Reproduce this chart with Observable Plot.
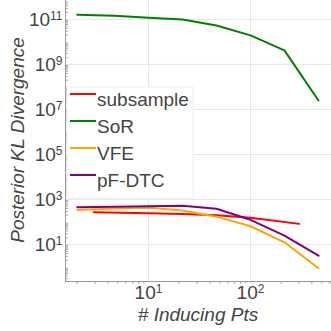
<!DOCTYPE html>
<html><head><meta charset="utf-8">
<script src="https://cdn.jsdelivr.net/npm/d3@7"></script>
<script src="https://cdn.jsdelivr.net/npm/@observablehq/plot@0.6"></script>
<style>
body{margin:0;background:#fff;}
</style>
</head><body><div id="chart"></div>
<script>
// Inducing point counts (x) and posterior KL divergence per method (y)
const xsGP = [2, 4.64, 10, 21.5, 46.4, 100, 215, 464];
const xsSub = [2.9, 10, 21.5, 46.4, 100, 300];
const subsample = [275, 245, 229, 200, 155, 83];
const sor = [1.62e11, 1.45e11, 1.2e11, 1.0e11, 5.4e10, 1.95e10, 4.2e9, 2.5e7];
const vfe = [347, 398, 427, 324, 174, 65, 12.6, 0.89];
const pfdtc = [457, 479, 501, 525, 389, 126, 25, 3.2];
const seriesNames = ["subsample", "SoR", "VFE", "pF-DTC"];
const seriesColors = ["red", "green", "orange", "purple"];
const xTicks = [10, 100];
const yTicks = [1e1, 1e3, 1e5, 1e7, 1e9, 1e11];

const rows = [];
subsample.forEach((v, i) => rows.push({x: xsSub[i], y: v, s: "subsample"}));
sor.forEach((v, i) => rows.push({x: xsGP[i], y: v, s: "SoR"}));
vfe.forEach((v, i) => rows.push({x: xsGP[i], y: v, s: "VFE"}));
pfdtc.forEach((v, i) => rows.push({x: xsGP[i], y: v, s: "pF-DTC"}));

const xDomain = [10 ** 0.186, 10 ** 2.794];
const yDomain = [10 ** -0.64, 10 ** 11.84];
const minorX = [];
for (let e = 0; e <= 2; e++) for (let k = 2; k <= 9; k++) { const v = k * 10 ** e; if (v > xDomain[0] && v < xDomain[1]) minorX.push(v); }
const minorY = [];
for (let e = -1; e <= 11; e++) for (let k = 2; k <= 9; k++) { const v = k * 10 ** e; if (v > yDomain[0] && v < yDomain[1]) minorY.push(v); }
const expFmt = d => "10^" + Math.round(Math.log10(d));

const textColor = "#444";
const chart = Plot.plot({
  width: 331, height: 331,
  marginLeft: 65, marginRight: 0, marginTop: 0, marginBottom: 50,
  style: {fontFamily: "'Liberation Sans', Arial, sans-serif", fontSize: "19px", color: textColor, background: "white"},
  x: {type: "log", domain: xDomain},
  y: {type: "log", domain: yDomain},
  color: {domain: seriesNames, range: seriesColors},
  marks: [
    Plot.gridX(xTicks, {stroke: "#e6e6e6", strokeOpacity: 1}),
    Plot.gridY(yTicks, {stroke: "#e6e6e6", strokeOpacity: 1}),
    Plot.axisX(minorX, {tickSize: 3, tickFormat: () => "", stroke: "#aaa", label: null}),
    Plot.axisY(minorY, {tickSize: -3, tickFormat: () => "", stroke: "#aaa", label: null}),
    Plot.axisX(xTicks, {tickSize: 0, tickPadding: 4, tickFormat: expFmt, label: null, fill: textColor}),
    Plot.axisY(yTicks, {tickSize: 0, tickPadding: 3, tickFormat: expFmt, label: null, fill: textColor}),
    Plot.ruleX([xDomain[0]], {stroke: "#999", strokeWidth: 1}),
    Plot.ruleY([yDomain[0]], {stroke: "#999", strokeWidth: 1}),
    Plot.line(rows, {x: "x", y: "y", z: "s", stroke: "s", strokeWidth: 2})
  ]
});
document.getElementById("chart").appendChild(chart);

const svg = d3.select(chart);
// superscript exponents on tick labels
svg.selectAll('g[aria-label="x-axis tick label"] text, g[aria-label="y-axis tick label"] text').each(function() {
  const t = d3.select(this);
  const s = t.text();
  if (!s.includes("^")) return;
  const [b, e] = s.split("^");
  t.text(b);
  t.append("tspan").attr("dy", "-6").attr("font-size", "12px").text(e);
});

// axis titles
svg.append("text").attr("x", 198).attr("y", 321).attr("text-anchor", "middle")
  .attr("font-style", "italic").attr("font-size", 19).attr("fill", textColor).text("# Inducing Pts");
svg.append("text").attr("transform", "translate(24,140) rotate(-90)").attr("text-anchor", "middle")
  .attr("font-style", "italic").attr("font-size", 19).attr("fill", textColor).text("Posterior KL Divergence");

// legend
const lg = svg.append("g");
lg.append("rect").attr("x", 67).attr("y", 87).attr("width", 126).attr("height", 111)
  .attr("fill", "white").attr("stroke", "#eee");
seriesNames.forEach((name, i) => {
  const yl = 94 + 27 * i;
  lg.append("line").attr("x1", 70).attr("x2", 96).attr("y1", yl).attr("y2", yl)
    .attr("stroke", seriesColors[i]).attr("stroke-width", 2);
  lg.append("text").attr("x", 97).attr("y", yl + 12).attr("text-anchor", "start")
    .attr("font-size", 19).attr("fill", textColor).text(name);
});
</script>
</body></html>
